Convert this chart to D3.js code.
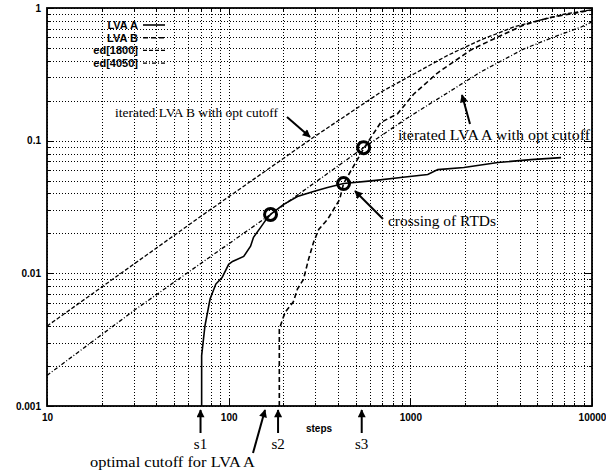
<!DOCTYPE html>
<html>
<head>
<meta charset="utf-8">
<title>RTD crossing</title>
<script src="https://cdnjs.cloudflare.com/ajax/libs/d3/7.8.5/d3.min.js"></script>
<style>
  body { margin: 0; background: #fff; }
  svg { display: block; }
  .lbl text, .lbl { font-family: "Liberation Sans", Arial, sans-serif; font-size: 10px; font-weight: bold; fill: #000; }
  .note { font-family: "Liberation Serif", "Times New Roman", serif; fill: #000; }
</style>
</head>
<body>
<script>
// Run time distributions (steps vs. P(solved))
const lvaASteps = [71, 71, 74, 79, 85, 92, 100, 105, 121, 132, 137, 150, 161, 170, 200, 239, 293, 350, 429, 628, 885, 1247, 1416, 1971, 3034, 4614, 6757];
const lvaAProb = [0.001, 0.0024, 0.0040, 0.0064, 0.0083, 0.0093, 0.0117, 0.0123, 0.0134, 0.0160, 0.0187, 0.0222, 0.0255, 0.0278, 0.033, 0.0379, 0.0414, 0.0443, 0.0475, 0.050, 0.0527, 0.0555, 0.0605, 0.0627, 0.0684, 0.072, 0.0745];

const lvaBSteps = [190, 190, 198, 205, 227, 239, 258, 275, 293, 313, 350, 378, 408, 429, 553, 687, 852, 1045, 1416, 2153, 3034, 4220, 5730, 8710, 10000];
const lvaBProb = [0.001, 0.0038, 0.0045, 0.0051, 0.0061, 0.0076, 0.0090, 0.0127, 0.0171, 0.0214, 0.0255, 0.0303, 0.036, 0.0475, 0.087, 0.137, 0.16, 0.225, 0.325, 0.483, 0.605, 0.745, 0.841, 0.933, 0.966];

const ed1800Steps = [10, 70, 293, 687, 1045, 1607, 2443, 3716, 7015, 10000];
const ed1800Prob = [0.0040, 0.0268, 0.106, 0.232, 0.318, 0.44, 0.575, 0.72, 0.90, 0.97];

const ed4050Steps = [10, 31, 170, 553, 968, 1607, 2443, 4220, 6180, 8710, 10000];
const ed4050Prob = [0.0017, 0.0054, 0.0278, 0.0886, 0.149, 0.230, 0.330, 0.492, 0.605, 0.719, 0.785];

// Marked points (circles) and cutoffs
const circleSteps = [170, 429, 553];
const circleProb = [0.0278, 0.0475, 0.0886];
const cutoffNames = ["s1", "s2", "s3"];
const cutoffSteps = [70, 187, 540];

// Legend and ticks
const seriesNames = ["LVA A", "LVA B", "ed[1800]", "ed[4050]"];
const xTicks = [10, 100, 1000, 10000];
const xTickLabels = ["10", "100", "1000", "10000"];
const yTicks = [0.001, 0.01, 0.1, 1];
const yTickLabels = ["0.001", "0.01", "0.1", "1"];

// SVG size and margins
const w = 606;
const h = 471;
const margin = { top: 8, right: 14, bottom: 65, left: 47 };
const innerWidth = w - margin.left - margin.right;
const innerHeight = h - margin.top - margin.bottom;

const svg = d3.select("body").append("svg")
  .attr("width", w)
  .attr("height", h);

const g = svg.append("g")
  .attr("transform", `translate(${margin.left},${margin.top})`);

const xScale = d3.scaleLog().domain([10, 10000]).range([0, innerWidth]);
const yScale = d3.scaleLog().domain([0.001, 1]).range([innerHeight, 0]);

// minor positions 1..9 in every decade
const xMinor = [];
[10, 100, 1000].forEach(function(d) { for (let k = 1; k < 10; k++) xMinor.push(d * k); });
xMinor.push(10000);
const yMinor = [];
[0.001, 0.01, 0.1].forEach(function(d) { for (let k = 1; k < 10; k++) yMinor.push(d * k); });
yMinor.push(1);

function isMajor(v) {
  return Math.abs(Math.log10(v) - Math.round(Math.log10(v))) < 1e-6;
}

// Dotted grid
const grid = g.append("g")
  .attr("stroke", "#000")
  .attr("stroke-width", 1)
  .attr("stroke-dasharray", "1,2");

grid.selectAll(".vx")
  .data(xMinor)
  .enter().append("line")
  .attr("class", "vx")
  .attr("x1", function(d) { return Math.round(xScale(d)) + 0.5; })
  .attr("x2", function(d) { return Math.round(xScale(d)) + 0.5; })
  .attr("y1", 0).attr("y2", innerHeight);

grid.selectAll(".hy")
  .data(yMinor)
  .enter().append("line")
  .attr("class", "hy")
  .attr("y1", function(d) { return Math.round(yScale(d)) + 0.5; })
  .attr("y2", function(d) { return Math.round(yScale(d)) + 0.5; })
  .attr("x1", 0).attr("x2", innerWidth);

// Inward ticks on all four sides
const tk = g.append("g").attr("stroke", "#000").attr("stroke-width", 1);
xMinor.forEach(function(d) {
  const x = Math.round(xScale(d)) + 0.5;
  const len = isMajor(d) ? 7 : 3;
  tk.append("line").attr("x1", x).attr("x2", x).attr("y1", innerHeight).attr("y2", innerHeight - len);
  tk.append("line").attr("x1", x).attr("x2", x).attr("y1", 0).attr("y2", len);
});
yMinor.forEach(function(d) {
  const y = Math.round(yScale(d)) + 0.5;
  const len = isMajor(d) ? 7 : 3;
  tk.append("line").attr("y1", y).attr("y2", y).attr("x1", 0).attr("x2", len);
  tk.append("line").attr("y1", y).attr("y2", y).attr("x1", innerWidth).attr("x2", innerWidth - len);
});

// Tick labels
g.append("g").attr("class", "lbl")
  .attr("transform", `translate(0,${innerHeight})`)
  .call(d3.axisBottom(xScale).tickValues(xTicks).tickSize(0).tickPadding(8)
    .tickFormat(function(d, i) { return xTickLabels[i]; }))
  .call(function(s) { s.select(".domain").remove(); });
g.append("g").attr("class", "lbl")
  .call(d3.axisLeft(yScale).tickValues(yTicks).tickSize(0).tickPadding(6)
    .tickFormat(function(d, i) { return yTickLabels[i]; }))
  .call(function(s) { s.select(".domain").remove(); });

g.append("text").attr("class", "lbl")
  .attr("x", 272).attr("y", innerHeight + 26)
  .attr("text-anchor", "middle")
  .text("steps");

// Frame
g.append("rect")
  .attr("width", innerWidth).attr("height", innerHeight)
  .attr("fill", "none").attr("stroke", "#000").attr("stroke-width", 1.8);

// Curves
const styles = [
  { steps: lvaASteps, prob: lvaAProb, dash: null, width: 1.6 },
  { steps: lvaBSteps, prob: lvaBProb, dash: "5,3", width: 1.6 },
  { steps: ed1800Steps, prob: ed1800Prob, dash: "4,2", width: 1.3 },
  { steps: ed4050Steps, prob: ed4050Prob, dash: "4,2,1,2", width: 1.3 }
];

const line = d3.line()
  .x(function(d) { return xScale(d[0]); })
  .y(function(d) { return yScale(d[1]); });

styles.forEach(function(s) {
  g.append("path")
    .datum(d3.zip(s.steps, s.prob))
    .attr("d", line)
    .attr("fill", "none")
    .attr("stroke", "#000")
    .attr("stroke-width", s.width)
    .attr("stroke-dasharray", s.dash);
});

// Circles on the curves
g.selectAll(".mark")
  .data(d3.zip(circleSteps, circleProb))
  .enter().append("circle")
  .attr("class", "mark")
  .attr("cx", function(d) { return xScale(d[0]); })
  .attr("cy", function(d) { return yScale(d[1]); })
  .attr("r", 6)
  .attr("fill", "none")
  .attr("stroke", "#000")
  .attr("stroke-width", 3);

// Legend
const legend = g.append("g").attr("transform", "translate(91,17)");
seriesNames.forEach(function(name, i) {
  const row = legend.append("g").attr("transform", `translate(0,${i * 12.7})`);
  row.append("text").attr("class", "lbl")
    .attr("x", 0).attr("y", 4)
    .attr("text-anchor", "end")
    .style("font-size", "11px")
    .text(name);
  row.append("line")
    .attr("x1", 5).attr("x2", 27)
    .attr("stroke", "#000")
    .attr("stroke-width", styles[i].width)
    .attr("stroke-dasharray", styles[i].dash);
});

// Arrow head
svg.append("defs").append("marker")
  .attr("id", "head")
  .attr("viewBox", "0 0 10 10")
  .attr("refX", 9).attr("refY", 5)
  .attr("markerWidth", 10).attr("markerHeight", 8)
  .attr("markerUnits", "userSpaceOnUse")
  .attr("orient", "auto")
  .append("path").attr("d", "M0,0L10,5L0,10z").attr("fill", "#000");

function arrow(x1, y1, x2, y2) {
  svg.append("line")
    .attr("x1", x1).attr("y1", y1).attr("x2", x2).attr("y2", y2)
    .attr("stroke", "#000").attr("stroke-width", 2)
    .attr("marker-end", "url(#head)");
}

function note(txt, x, y, size, len, anchor) {
  const t = svg.append("text").attr("class", "note")
    .attr("x", x).attr("y", y)
    .attr("text-anchor", anchor || "start")
    .style("font-size", size + "px")
    .text(txt);
  if (len) t.attr("textLength", len).attr("lengthAdjust", "spacingAndGlyphs");
}

// Cutoff arrows below the axis
const yBottom = margin.top + innerHeight;
cutoffSteps.forEach(function(s, i) {
  const x = margin.left + xScale(s);
  arrow(x, yBottom + 27, x, yBottom + 4);
  note(cutoffNames[i], x, yBottom + 43, 15, null, "middle");
});
arrow(253, 453, 265, yBottom + 4);
note("optimal cutoff for LVA A", 90, 467, 14, 165);

// Annotations in the plot
note("iterated LVA B with opt cutoff", 115, 117, 13, 163);
arrow(287, 117, 310, 137);
note("iterated LVA A with opt cutoff", 398, 140, 14, 192);
arrow(470, 124, 462, 95);
note("crossing of RTDs", 388, 226, 15, 108);
arrow(383, 219, 355, 191);
</script>
</body>
</html>
